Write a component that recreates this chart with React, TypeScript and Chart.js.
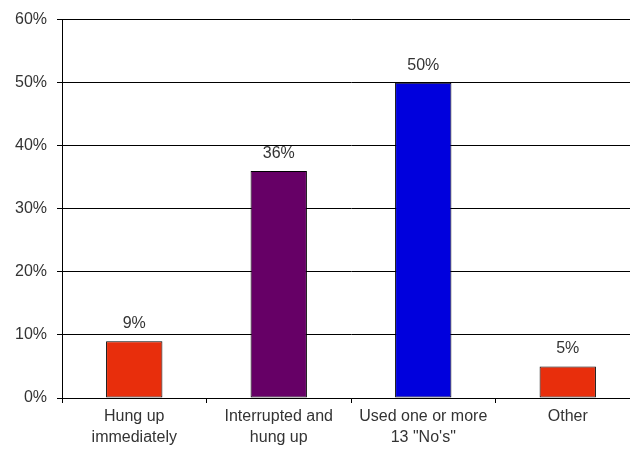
import React, { useEffect, useRef } from "react";
import { Chart, registerables } from "chart.js";

Chart.register(...registerables);

const categories: string[][] = [
  ["Hung up", "immediately"],
  ["Interrupted and", "hung up"],
  ["Used one or more", "13 \"No's\""],
  ["Other"],
];
const values: number[] = [9, 36, 50, 5];
const barColors: string[] = ["#E82E0C", "#660066", "#0000DD", "#E82E0C"];
const yTicks: number[] = [0, 10, 20, 30, 40, 50, 60];

const FONT = "'Liberation Sans', Arial, sans-serif";

const labelPlugin = {
  id: "barLabels",
  afterDatasetsDraw(chart: any) {
    const ctx = chart.ctx;
    const meta = chart.getDatasetMeta(0);
    ctx.save();
    ctx.font = `16px ${FONT}`;
    ctx.fillStyle = "#333";
    ctx.textAlign = "center";
    ctx.textBaseline = "alphabetic";
    meta.data.forEach((bar: any, i: number) => {
      ctx.fillText(values[i] + "%", bar.x, bar.y - 13);
    });
    ctx.restore();
  },
};

export default function App() {
  const ref = useRef<HTMLCanvasElement | null>(null);
  useEffect(() => {
    document.body.style.margin = "0";
    const chart = new Chart(ref.current!, {
      type: "bar",
      data: {
        labels: categories,
        datasets: [
          {
            data: values,
            backgroundColor: barColors,
            borderColor: "#000",
            borderWidth: 1,
            borderSkipped: false,
            barPercentage: 0.39,
            categoryPercentage: 1,
          },
        ],
      },
      options: {
        animation: false,
        responsive: false,
        devicePixelRatio: 1,
        layout: { padding: { top: 17, right: 5, left: 0, bottom: 0 } },
        plugins: {
          legend: { display: false },
          tooltip: { enabled: false },
        },
        scales: {
          x: {
            grid: {
              display: true,
              drawOnChartArea: false,
              drawTicks: true,
              offset: true,
              tickLength: 5,
              color: "#000",
            },
            border: { display: true, color: "#000", width: 1 },
            ticks: {
              color: "#333",
              font: { family: FONT, size: 16, lineHeight: 1.3 },
              padding: 3,
              maxRotation: 0,
              autoSkip: false,
            },
            afterFit: (s: any) => {
              s.height = 52;
            },
          },
          y: {
            min: 0,
            max: 60,
            afterBuildTicks: (s: any) => {
              s.ticks = yTicks.map((v) => ({ value: v }));
            },
            grid: {
              color: "#000",
              lineWidth: 1,
              tickLength: 5,
            },
            border: { display: true, color: "#000", width: 1 },
            ticks: {
              color: "#333",
              font: { family: FONT, size: 16 },
              padding: 10,
              callback: (v: any) => v + "%",
            },
            afterFit: (s: any) => {
              s.width = 62;
            },
          },
        },
      },
      plugins: [labelPlugin],
    });
    return () => chart.destroy();
  }, []);
  return (
    <div style={{ width: 630, height: 450, overflow: "hidden" }}>
      <canvas ref={ref} width={645} height={450} style={{ display: "block" }} />
    </div>
  );
}
